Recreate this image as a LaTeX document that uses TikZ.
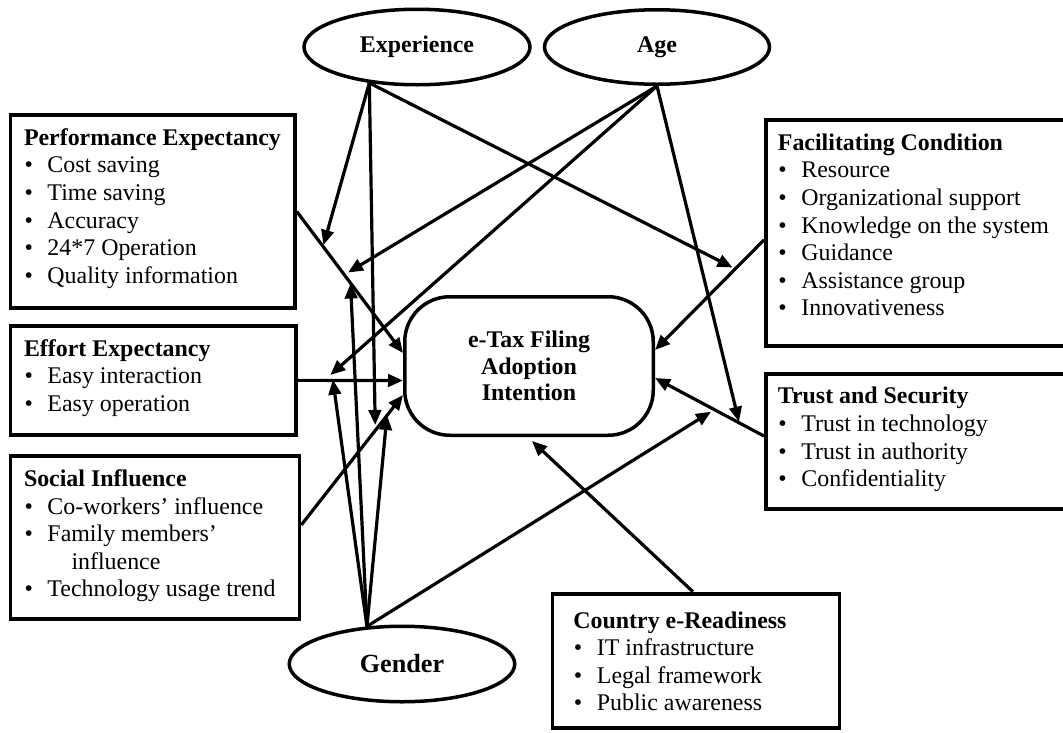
\documentclass[tikz,border=0pt]{standalone}
\usepackage{fontspec}
\setmainfont{Liberation Serif}
\usetikzlibrary{shapes.geometric,arrows.meta,calc}

\newcommand{\bul}{\makebox[23.5pt][l]{\hspace{0.5pt}\textbullet}}
\newcommand{\factorbox}[3]{\begin{minipage}[t][#2][t]{#1}#3\end{minipage}}

\begin{document}
\begin{tikzpicture}[x=1pt, y=-1pt,
  font=\fontsize{23.9}{27.6}\selectfont,
  factor/.style={draw, line width=3.8pt, anchor=north west, inner sep=13.5pt},
  moderator/.style={draw, ellipse, line width=3.5pt, inner sep=0pt, font=\fontsize{23.9}{27.6}\selectfont\bfseries},
  outcome/.style={draw, rounded corners=45pt, line width=3.5pt, align=center, font=\fontsize{23.9}{26.8}\selectfont\bfseries},
  link/.style={-{Triangle[length=15pt,width=12.5pt]}, line width=3.2pt}]
  \useasboundingbox (0,0) rectangle (1063,732);

  % moderators
  \node[moderator, minimum width=226pt, minimum height=75.5pt] (exp) at (417,47) {Experience};
  \node[moderator, minimum width=225pt, minimum height=74.5pt] (age) at (657,47) {Age};
  \node[moderator, minimum width=225.5pt, minimum height=75.5pt, font=\fontsize{26.2}{30}\selectfont\bfseries] (gen) at (402,664) {Gender};

  % outcome
  \node[outcome, minimum width=248.5pt, minimum height=138.5pt] (int) at (529,366) {e-Tax Filing\\Adoption\\Intention};

  % factors
  \node[factor] (pe) at (8.6,113) {\factorbox{257.4pt}{166.2pt}{%
    \textbf{Performance Expectancy}\\
    \bul Cost saving\\
    \bul Time saving\\
    \bul Accuracy\\
    \bul 24*7 Operation\\
    \bul Quality information}};
  \node[factor] (ee) at (8.6,324) {\factorbox{258.5pt}{81.9pt}{%
    \textbf{Effort Expectancy}\\
    \bul Easy interaction\\
    \bul Easy operation}};
  \node[factor] (si) at (8.6,454.3) {\factorbox{261.9pt}{135.9pt}{%
    \textbf{Social Influence}\\
    \bul Co-workers’ influence\\
    \bul Family members’\\
    \hspace*{47.5pt}influence\\
    \bul Technology usage trend}};
  \node[factor, inner xsep=12pt] (fc) at (764,118.3) {\factorbox{284.2pt}{198.4pt}{%
    \textbf{Facilitating Condition}\\
    \bul Resource\\
    \bul Organizational support\\
    \bul Knowledge on the system\\
    \bul Guidance\\
    \bul Assistance group\\
    \bul Innovativeness}};
  \node[factor, inner xsep=12pt] (ts) at (764,372) {\factorbox{284.2pt}{107.9pt}{%
    \textbf{Trust and Security}\\
    \bul Trust in technology\\
    \bul Trust in authority\\
    \bul Confidentiality}};
  \node[factor, inner xsep=21pt, inner ysep=18pt] (cr) at (550.5,591.7) {\factorbox{245pt}{98.5pt}{%
    \textbf{Country e-Readiness}\\
    \bul IT infrastructure\\
    \bul Legal framework\\
    \bul Public awareness}};

  % direct effects
  \draw[link] (pe.east) -- ($(int.west)+(0,-13)$);
  \draw[link] (ee.east) -- ($(int.west)+(0,14.5)$);
  \draw[link] ($(si.east)+(0,-12.7)$) -- ($(int.west)+(0,29)$);
  \draw[link] ($(fc.west)+(0,7)$) -- ($(int.east)+(0,-16)$);
  \draw[link] ($(ts.west)+(0,-5.3)$) -- ($(int.east)+(0,12)$);
  \draw[link] ($(cr.north)+(-3,0)$) -- ($(int.south)+(3,4)$);

  % moderating effects
  \coordinate (peExp) at (323.5,245);
  \coordinate (peAge) at (348,272.5);
  \coordinate (peGen) at (350.5,283.5);
  \coordinate (eeAge) at (330.3,375);
  \coordinate (eeGen) at (332.8,379.6);
  \coordinate (siExp) at (375.2,425);
  \coordinate (siGen) at (387,415);
  \coordinate (fcExp) at (732.5,267.5);
  \coordinate (tsAge) at (739,421.7);
  \coordinate (tsGen) at (711,411.7);

  \draw[link] (exp.-143) -- (peExp);
  \draw[link] (exp.-143) -- (siExp);
  \draw[link] (exp.-143) -- (fcExp);
  \draw[link] (age.south) -- (peAge);
  \draw[link] (age.south) -- (eeAge);
  \draw[link] (age.south) -- (tsAge);
  \draw[link] (gen.133) -- (peGen);
  \draw[link] (gen.133) -- (eeGen);
  \draw[link] (gen.133) -- (siGen);
  \draw[link] (gen.133) -- (tsGen);
\end{tikzpicture}
\end{document}
